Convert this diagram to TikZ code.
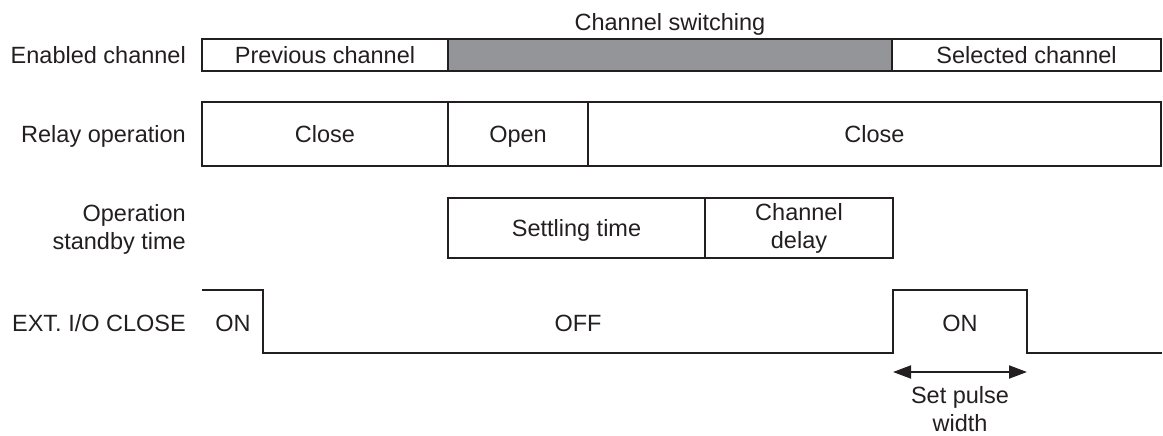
\documentclass[tikz,border=0pt]{standalone}
\usepackage{fontspec}
\setmainfont{Liberation Sans}
\usetikzlibrary{arrows.meta,positioning}
\definecolor{ink}{RGB}{35,31,32}
\definecolor{swgray}{RGB}{147,149,152}

\begin{document}
\begin{tikzpicture}[x=1pt,y=-1pt,>={Triangle[length=18pt,width=13pt]},
  txt/.style={font=\fontsize{23.5}{28}\selectfont,text=ink,inner sep=0pt},
  oneline/.style={text height=17pt,text depth=0pt},
  seg/.style={txt,draw=ink,line width=2pt,outer sep=0pt,anchor=north west,align=center},
  lbl/.style={txt,align=right,anchor=east},
  sig/.style={draw=ink,line width=2pt}]

% canvas
\useasboundingbox (0,0) rectangle (1163,436);

% enabled channel
\node[seg,oneline,minimum width=246pt,minimum height=32pt] (prev) at (202,39) {Previous channel};
\node[seg,fill=swgray,minimum width=444pt,minimum height=32pt] (switch) at (prev.north east) {};
\node[seg,oneline,minimum width=269pt,minimum height=32pt] (sel) at (switch.north east) {Selected channel};
\node[txt,oneline,above=8pt of switch] (title) {Channel switching};
\node[lbl,oneline,left=16pt of prev] (enlbl) {Enabled channel};

% relay operation
\node[seg,oneline,minimum width=246pt,minimum height=64pt] (close1) at (202,102) {Close};
\node[seg,oneline,minimum width=140pt,minimum height=64pt] (open) at (close1.north east) {Open};
\node[seg,oneline,minimum width=573pt,minimum height=64pt] (close2) at (open.north east) {Close};
\node[lbl,oneline,left=16pt of close1] (rlylbl) {Relay operation};

% operation standby time
\node[seg,oneline,minimum width=257pt,minimum height=60pt] (settle) at (448,198) {Settling time};
\node[seg,minimum width=188pt,minimum height=60pt] (delay) at (settle.north east) {Channel\\delay};
\node[lbl] (sblbl) at (186,229) {Operation\\standby time};

% ext. i/o close signal
\draw[sig] (202,290) -| (263,353) -| (893,290) -| (1027,353) -- (1162,353);
\node[lbl,oneline] (extlbl) at (186,323) {EXT. I/O CLOSE};
\node[txt,oneline] (on1) at (233,323) {ON};
\node[txt,oneline] (off) at (578,323) {OFF};
\node[txt,oneline] (on2) at (960,323) {ON};

% pulse width
\coordinate (pwl) at (893,372);
\coordinate (pwr) at (1027,372);
\draw[<->,sig] (pwl) -- (pwr);
\node[txt,align=center,anchor=north] (pwlbl) at (960,386) {Set pulse\\width};

\end{tikzpicture}
\end{document}
